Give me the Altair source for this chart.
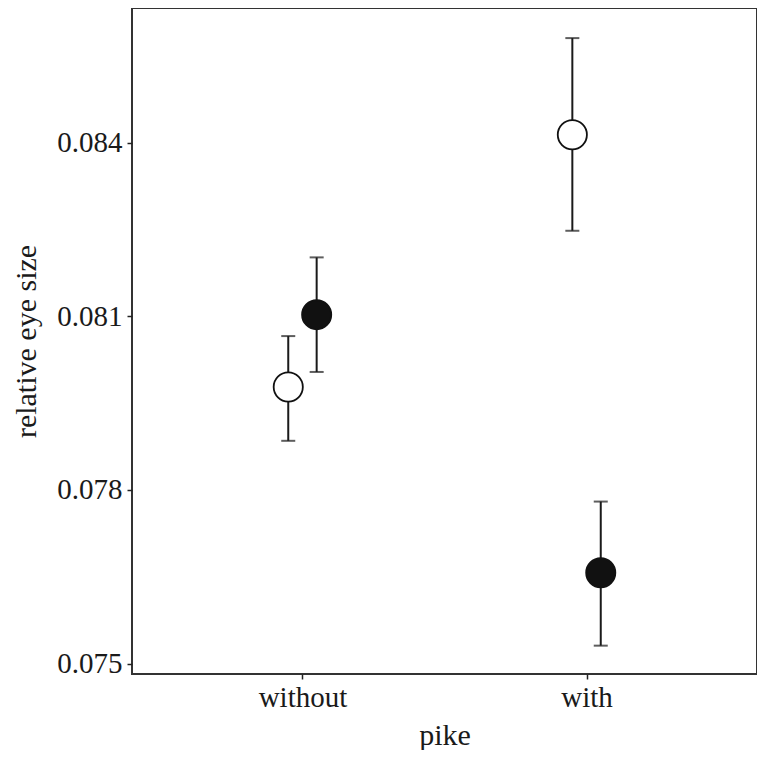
import altair as alt
import pandas as pd

# data
pike = ["without", "without", "with", "with"]
group = ["open", "filled", "open", "filled"]
mean_eye = [0.07978, 0.08103, 0.08414, 0.07657]
lower_eye = [0.07885, 0.08004, 0.08248, 0.07531]
upper_eye = [0.08066, 0.08202, 0.08581, 0.07780]

pike_order = ["without", "with"]
group_order = ["open", "filled"]
y_ticks = [0.075, 0.078, 0.081, 0.084]

df = pd.DataFrame({
    "pike": pike,
    "group": group,
    "mean": mean_eye,
    "lower": lower_eye,
    "upper": upper_eye,
})

FONT = "Liberation Serif"
W = 625
H = 666
DODGE = 0.05  # half of the position_dodge width, in category units

x_enc = alt.X(
    "xpos:Q",
    scale=alt.Scale(domain=[0.4, 2.6], nice=False, zero=False),
    axis=alt.Axis(
        title="pike",
        values=[1, 2],
        labelExpr="datum.value == 1 ? 'without' : 'with'",
        labelAngle=0,
        domain=False,
        ticks=True,
        tickSize=5,
        tickWidth=1.5,
        tickColor="#222",
        labelPadding=4,
        titlePadding=8,
        grid=False,
    ),
)
y_scale = alt.Scale(domain=[0.07482, 0.08633], nice=False, zero=False)
y_axis = alt.Axis(
    title="relative eye size",
    values=y_ticks,
    format=".3f",
    domain=False,
    grid=False,
    tickSize=5,
    tickWidth=1.5,
    tickColor="#222",
    labelPadding=5,
    titlePadding=15,
)

base = alt.Chart(df).transform_calculate(
    xpos=f"indexof({pike_order!r}, datum.pike) + 1 + (datum.group == 'open' ? -{DODGE} : {DODGE})"
).encode(x=x_enc)

rules = base.mark_rule(color="#1a1a1a", strokeWidth=2).encode(
    y=alt.Y("lower:Q", scale=y_scale, axis=y_axis),
    y2="upper:Q",
)
caps_top = base.mark_tick(color="#1a1a1a", thickness=2, size=14, orient="horizontal").encode(
    y=alt.Y("upper:Q", scale=y_scale, axis=y_axis),
)
caps_bottom = base.mark_tick(color="#1a1a1a", thickness=2, size=14, orient="horizontal").encode(
    y=alt.Y("lower:Q", scale=y_scale, axis=y_axis),
)
points = base.mark_point(filled=True, size=850, stroke="#111", strokeWidth=1.8, opacity=1).encode(
    y=alt.Y("mean:Q", scale=y_scale, axis=y_axis),
    fill=alt.Fill(
        "group:N",
        sort=group_order,
        scale=alt.Scale(domain=group_order, range=["white", "#111111"]),
        legend=None,
    ),
)

chart = (
    alt.layer(rules, caps_top, caps_bottom, points)
    .properties(
        width=W,
        height=H,
        background="white",
        padding={"left": 3, "top": 0, "right": 0, "bottom": 0},
    )
    .configure_view(stroke="#333333", strokeWidth=2, fill="white")
    .configure_axis(
        labelFont=FONT,
        titleFont=FONT,
        labelFontSize=29,
        titleFontSize=30,
        titleFontWeight="normal",
        labelColor="#1a1a1a",
        titleColor="#1a1a1a",
    )
)

chart.save("out.html", embed_options={"renderer": "svg", "actions": False})
